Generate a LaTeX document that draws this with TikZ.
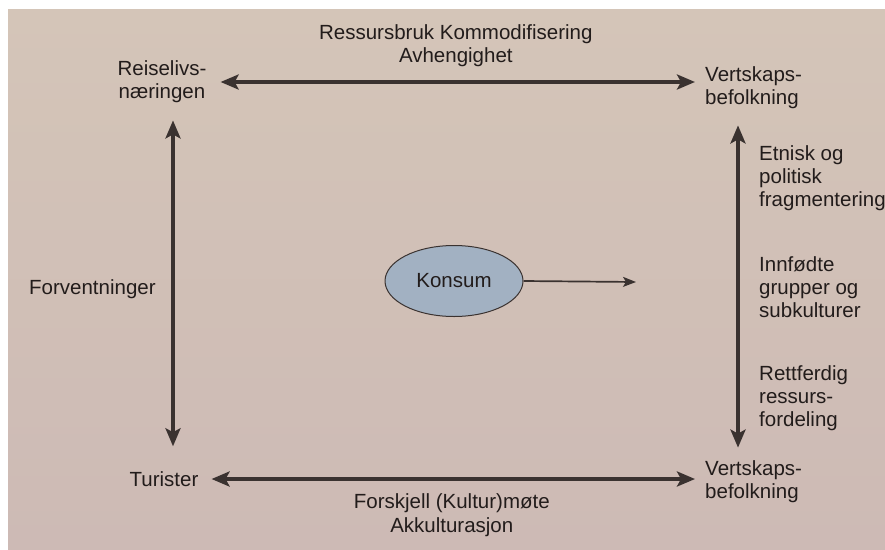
\documentclass[tikz,border=0pt]{standalone}
\usepackage{fontspec}
\setmainfont{Liberation Sans}
\usetikzlibrary{arrows.meta,shapes.geometric,calc}
\definecolor{paperTop}{HTML}{D4C5B8}
\definecolor{paperBot}{HTML}{CDBAB5}
\definecolor{ink}{HTML}{3A3230}
\definecolor{txt}{HTML}{221C1B}
\definecolor{ellfill}{HTML}{A2B1C2}
\begin{document}
\begin{tikzpicture}[x=1pt,y=-1pt,
  font=\fontsize{20.5}{23.3}\selectfont, text=txt,
  lbl/.style={inner sep=0pt, align=left},
  bigtip/.tip={Stealth[length=18pt,width=15pt,inset=4pt]},
  big/.style={draw=ink, line width=3.8pt, bigtip-bigtip},
  thin/.style={draw=ink, line width=1.7pt, -{Stealth[length=13pt,width=10pt,inset=3pt]}}]
\useasboundingbox (0,0) rectangle (885,549);
\fill[white] (0,0) rectangle (885,549);
\shade[top color=paperTop, bottom color=paperBot] (8,9) rectangle (885,549);

\node[lbl, align=center] (rn) at (162,82) {Reiselivs-\\næringen};
\node[lbl, anchor=west] (vt) at (705,88) {Vertskaps-\\befolkning};
\node[lbl] (tu) at (164,479) {Turister};
\node[lbl, anchor=west] (vb) at (705,482) {Vertskaps-\\befolkning};
\node[lbl, anchor=west] (fv) at (29,289) {Forventninger};
\node[lbl, anchor=west] (e1) at (759,178) {Etnisk og\\politisk\\fragmentering};
\node[lbl, anchor=west] (e2) at (759,287) {Innfødte\\grupper og\\subkulturer};
\node[lbl, anchor=west] (e3) at (759,398) {Rettferdig\\ressurs-\\fordeling};
\node[ellipse, draw=ink, line width=1pt, fill=ellfill, minimum width=138pt,
      minimum height=71pt, inner sep=0pt] (ks) at (454,281) {Konsum};
\coordinate (ke) at (636,282);
\coordinate (lx) at (173,0);
\coordinate (rx) at (738,0);

\draw[big, shorten <=14pt, shorten >=10pt] (rn.east) -- (rn.east -| vt.west)
  node[midway, above=13pt, align=center, inner sep=0pt] (tl) {Ressursbruk Kommodifisering\\Avhengighet};
\draw[big, shorten <=13pt, shorten >=10pt] (tu.east) -- (tu.east -| vb.west)
  node[midway, below=13pt, align=center, inner sep=0pt] (bl) {Forskjell (Kultur)møte\\Akkulturasjon};
\draw[big, shorten <=17pt, shorten >=25pt] (rn.south -| lx) -- (tu.north -| lx);
\draw[big, shorten <=16pt, shorten >=13pt] (vt.south -| rx) -- (vb.north -| rx);
\draw[thin] (ks.east) -- (ke);
\end{tikzpicture}
\end{document}
